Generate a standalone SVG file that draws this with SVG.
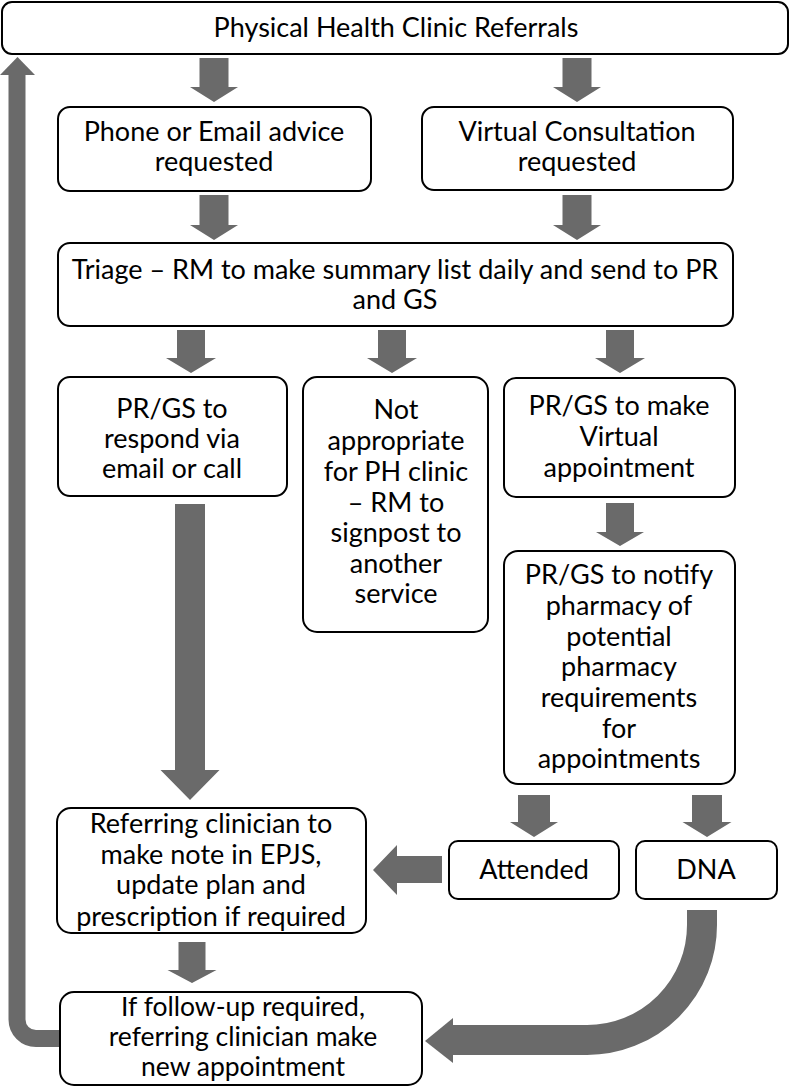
<svg xmlns="http://www.w3.org/2000/svg" width="790" height="1087" viewBox="0 0 790 1087">
<defs>
<style>
.box{fill:#fff;stroke:#000;stroke-width:2}
.t{font-family:Lato,"Liberation Sans",sans-serif;font-size:27px;fill:#000;text-anchor:middle}
.s{font-size:26.5px}
.arr{fill:#6a6a6a;stroke:none}
</style>
</defs>
<rect width="790" height="1087" fill="#fff"/>
<g id="connectors">
<polygon class="arr" points="199.5,58 228.5,58 228.5,87 238,87 214,102 190,87 199.5,87"/>
<polygon class="arr" points="562.5,58 591.5,58 591.5,87 601,87 577,102 553,87 562.5,87"/>
<polygon class="arr" points="199.5,195 228.5,195 228.5,225 238,225 214,240 190,225 199.5,225"/>
<polygon class="arr" points="562.5,195 591.5,195 591.5,225 601,225 577,240 553,225 562.5,225"/>
<polygon class="arr" points="177,330 205,330 205,358 216,358 191,373 166,358 177,358"/>
<polygon class="arr" points="378,330 406,330 406,358 417,358 392,373 367,358 378,358"/>
<polygon class="arr" points="606,330 634,330 634,358 645,358 620,373 595,358 606,358"/>
<polygon class="arr" points="606,503 634,503 634,532 644,532 620,546 596,532 606,532"/>
<polygon class="arr" points="175,504 205,504 205,770 219.5,770 190,800 160.5,770 175,770"/>
<polygon class="arr" points="518,795 550,795 550,822 558,822 534,837 510,822 518,822"/>
<polygon class="arr" points="692,795 722,795 722,822 731.5,822 707,837 682.5,822 692,822"/>
<polygon class="arr" points="178.5,942 205.5,942 205.5,970 216.5,970 192,983 167.5,970 178.5,970"/>
<polygon class="arr" points="442,856 442,883 397,883 397,895 373,870 397,845 397,856"/>
<path d="M62 1038.5 H36 A19 19 0 0 1 17 1019.5 V74" fill="none" stroke="#6a6a6a" stroke-width="17"/>
<polygon class="arr" points="0,75 35,75 17.5,57"/>
<path d="M702 910 V925 A115 115 0 0 1 587 1040 H452" fill="none" stroke="#6a6a6a" stroke-width="30"/>
<polygon class="arr" points="453,1018 453,1063 425,1041"/>
</g>
<g id="n-top">
<rect class="box" x="2" y="2" width="786" height="52" rx="10"/>
<text class="t" x="396" y="37">Physical Health Clinic Referrals</text>
</g>
<g id="n-phone">
<rect class="box" x="58" y="107" width="313" height="84" rx="12"/>
<text class="t" x="214" y="141">Phone or Email advice</text>
<text class="t" x="214" y="171">requested</text>
</g>
<g id="n-virtual">
<rect class="box" x="422" y="107" width="311" height="83" rx="12"/>
<text class="t" x="577" y="141">Virtual Consultation</text>
<text class="t" x="577" y="171">requested</text>
</g>
<g id="n-triage">
<rect class="box" x="58" y="243" width="675" height="83" rx="12"/>
<text class="t" x="395" y="279">Triage – RM to make summary list daily and send to PR</text>
<text class="t" x="395" y="309">and GS</text>
</g>
<g id="n-respond">
<rect class="box" x="58" y="377" width="229" height="119" rx="12"/>
<text class="t" x="172" y="418">PR/GS to</text>
<text class="t" x="172" y="448">respond via</text>
<text class="t" x="172" y="478">email or call</text>
</g>
<g id="n-notapp">
<rect class="box" x="303" y="377" width="185" height="255" rx="14"/>
<text class="t" x="396" y="419">Not</text>
<text class="t" x="396" y="450">appropriate</text>
<text class="t" x="396" y="481">for PH clinic</text>
<text class="t" x="396" y="512">– RM to</text>
<text class="t" x="396" y="542">signpost to</text>
<text class="t" x="396" y="573">another</text>
<text class="t" x="396" y="603">service</text>
</g>
<g id="n-makeappt">
<rect class="box" x="504" y="378" width="231" height="119" rx="12"/>
<text class="t" x="619" y="415">PR/GS to make</text>
<text class="t" x="619" y="446">Virtual</text>
<text class="t" x="619" y="477">appointment</text>
</g>
<g id="n-notify">
<rect class="box" x="504" y="551" width="231" height="233" rx="14"/>
<text class="t" x="619" y="584">PR/GS to notify</text>
<text class="t" x="619" y="615">pharmacy of</text>
<text class="t" x="619" y="646">potential</text>
<text class="t" x="619" y="676">pharmacy</text>
<text class="t" x="619" y="707">requirements</text>
<text class="t" x="619" y="738">for</text>
<text class="t" x="619" y="768">appointments</text>
</g>
<g id="n-attended">
<rect class="box" x="449" y="841" width="170" height="58" rx="9"/>
<text class="t" x="534" y="879">Attended</text>
</g>
<g id="n-dna">
<rect class="box" x="636" y="841" width="141" height="58" rx="9"/>
<text class="t" x="706" y="879">DNA</text>
</g>
<g id="n-referring">
<rect class="box" x="57" y="808" width="309" height="125" rx="14"/>
<text class="t" x="211" y="833">Referring clinician to</text>
<text class="t" x="211" y="864">make note in EPJS,</text>
<text class="t" x="211" y="894">update plan and</text>
<text class="t" x="211" y="926">prescription if required</text>
</g>
<g id="n-followup">
<rect class="box" x="60" y="992" width="362" height="93" rx="14"/>
<text class="t s" x="243" y="1016">If follow-up required,</text>
<text class="t s" x="243" y="1046">referring clinician make</text>
<text class="t s" x="243" y="1076">new appointment</text>
</g>
</svg>
